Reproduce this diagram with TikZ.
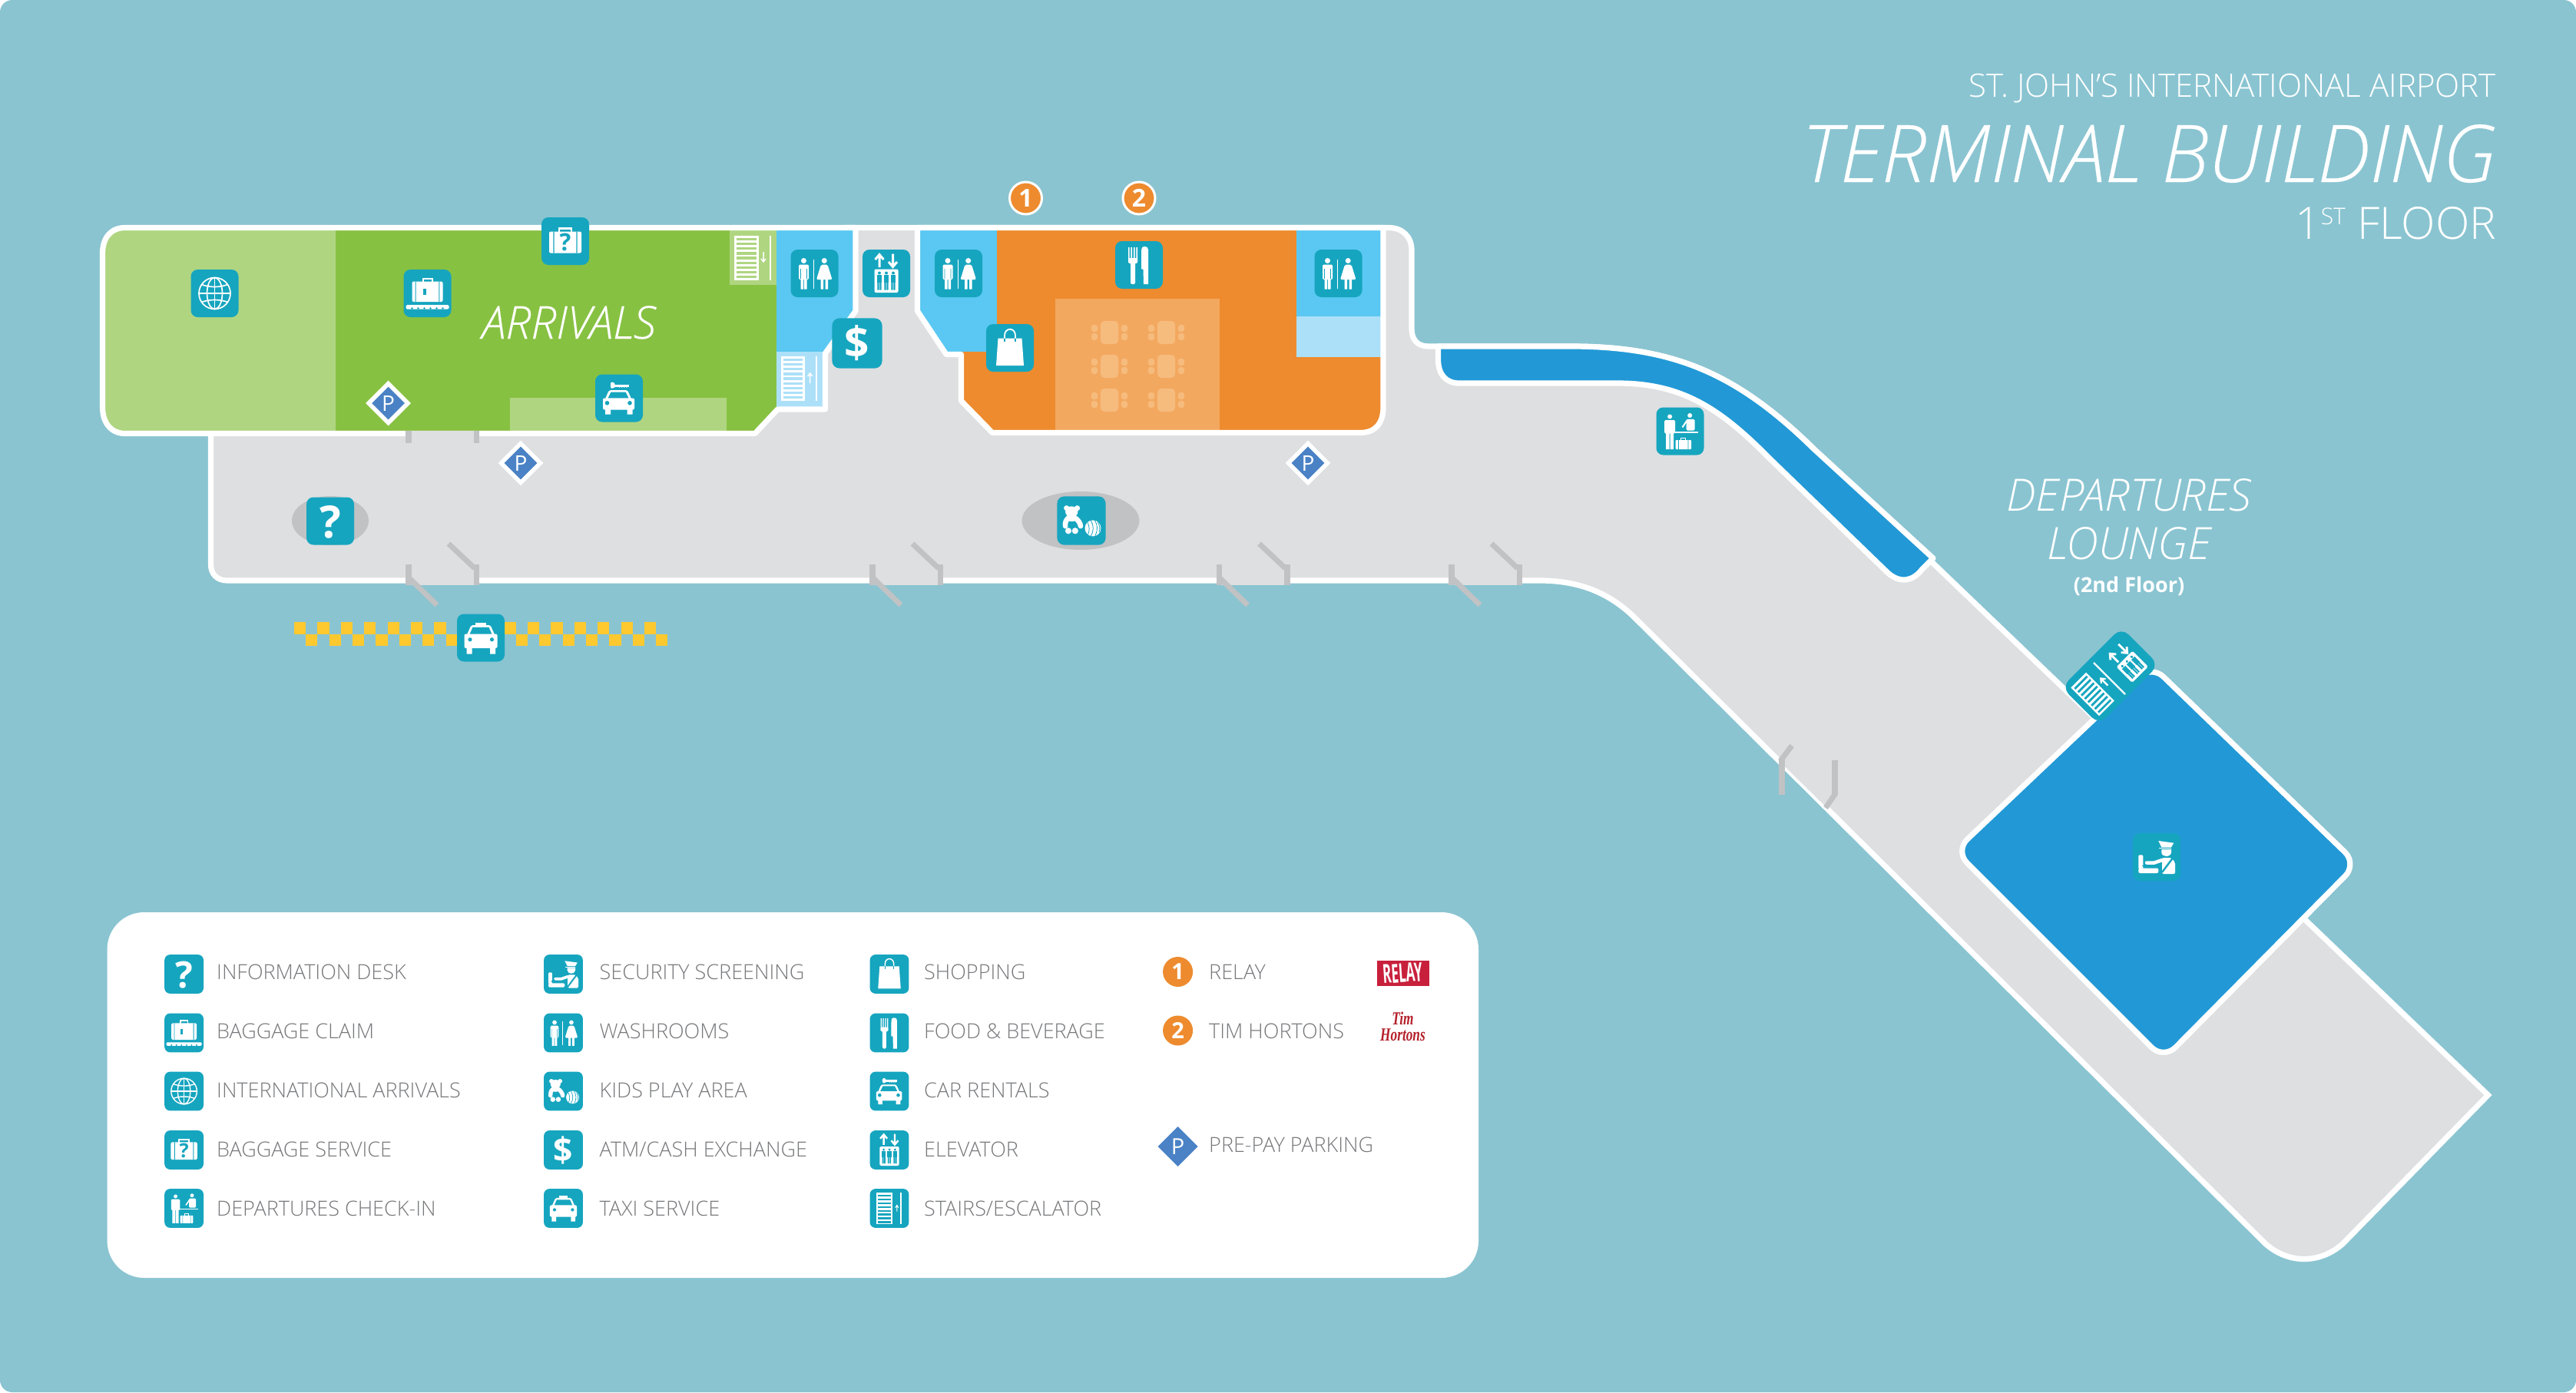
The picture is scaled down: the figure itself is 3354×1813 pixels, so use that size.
\documentclass[tikz,border=0pt]{standalone}
\usepackage{fontspec}
\setmainfont{Open Sans}[UprightFont={* Light},ItalicFont={* Light Italic}]
\newfontfamily\osbold{Open Sans}
\newfontfamily\titlefont{Open Sans Light Italic}[FakeBold=0.25]
\newfontfamily\tmfont{Liberation Serif}
\definecolor{bgc}{HTML}{8AC4D1}
\definecolor{gry}{HTML}{DEDFE1}
\definecolor{lgreen}{HTML}{AFD581}
\definecolor{dgreen}{HTML}{87C142}
\definecolor{lblue}{HTML}{5AC8F2}
\definecolor{pblue}{HTML}{ACE0F8}
\definecolor{orng}{HTML}{ED8B2E}
\definecolor{lorng}{HTML}{F3A860}
\definecolor{tabl}{HTML}{F6BC7E}
\definecolor{sblue}{HTML}{2299D6}
\definecolor{icobg}{HTML}{16A5BF}
\definecolor{pkblue}{HTML}{4A82C5}
\definecolor{ltext}{HTML}{77787B}
\definecolor{doorc}{HTML}{C0C2C4}
\definecolor{checkc}{HTML}{FDC92F}
\definecolor{relayc}{HTML}{C8203C}
\definecolor{timc}{HTML}{B5202A}
\newcommand{\fsz}[1]{\fontsize{#1}{#1}\selectfont}
\tikzset{
  wall/.style={draw=white,line width=7.2pt,line join=round},
  gtext/.style={inner sep=0pt,white},
  ltxt/.style={inner sep=0pt,text=ltext,anchor=base west,font=\fsz{27}},
  numc/.style={fill=orng,draw=white,line width=3pt},
  gl/.style={white,inner sep=0pt,transform shape},
}
% ---- glyphs, drawn in a 62-unit box centred on the origin
\newcommand{\glyQ}{\node[gl,font=\osbold\bfseries\fsz{58}] (gq) at (0,1) {?};}
\newcommand{\glyD}{\node[gl,font=\osbold\bfseries\fsz{54}] (gd) at (0,0) {\$};}
\newcommand{\glyTaxi}{%
  \fill[white] (-7,-20) rectangle (7,-16);
  \fill[white,rounded corners=\s*2pt] (-12.5,-16.5) -- (12.5,-16.5) -- (18.5,-3) -- (-18.5,-3) -- cycle;
  \fill[icobg] (-10.5,-13.7) -- (10.5,-13.7) -- (14.5,-4.5) -- (-14.5,-4.5) -- cycle;
  \fill[white,rounded corners=\s*2pt] (-21.5,-5) rectangle (21.5,13.5);
  \fill[white] (-18.5,12) rectangle (-11.5,21) (12,12) rectangle (19,21);
  \fill[icobg] (-14,2.3) circle (2.6) (14.5,2.3) circle (2.6);}
\newcommand{\glyRent}{%
  \fill[white,rounded corners=\s*2pt] (-13,-10.5) -- (11,-10.5) -- (17,3) -- (-19,3) -- cycle;
  \fill[icobg] (-10.5,-8) -- (8.5,-8) -- (12.5,0) -- (-14.5,0) -- cycle;
  \fill[white,rounded corners=\s*2pt] (-21,0) rectangle (20,15);
  \fill[white] (-18,14) rectangle (-11,21) (10.5,14) rectangle (17.5,21);
  \fill[icobg] (-15.5,6.3) circle (2.8) (14,6.3) circle (2.8);
  \fill[white,rounded corners=\s*2pt] (-11,-21) -- (-7,-21) -- (-5,-18.5) -- (-5,-15) -- (-7,-12.7) -- (-11,-12.7) -- cycle;
  \fill[white] (-6,-18) rectangle (12.5,-15);
  \fill[white] (0,-15.2) rectangle (1.4,-14) (3,-15.2) rectangle (4.4,-14) (6,-15.2) rectangle (7.4,-14) (9,-15.2) rectangle (10.4,-14);}
\newcommand{\glyWash}{%
  \fill[white] (-14,-16.5) circle (3.5);
  \fill[white,rounded corners=\s*2pt] (-20.5,-11.5) rectangle (-7.5,8);
  \fill[white] (-18,6) rectangle (-14.5,20.5) (-13.5,6) rectangle (-10,20.5);
  \fill[icobg] (-18.3,-6) rectangle (-17.7,7) (-10.3,-6) rectangle (-9.7,7);
  \fill[white] (-1.5,-18) rectangle (-0.4,20);
  \fill[white] (12.7,-16.5) circle (3.5);
  \fill[white,rounded corners=\s*2pt] (8.5,-11.5) -- (17,-11.5) -- (23,8) -- (2.5,8) -- cycle;
  \fill[white] (8,7) rectangle (11.5,20.5) (14,7) rectangle (17.5,20.5);}
\newcommand{\glyClaim}{%
  \draw[white,line width=\s*2pt] (-6,-15) -- (-6,-19.5) -- (6,-19.5) -- (6,-15);
  \fill[white,rounded corners=\s*2pt] (-20,-15.5) rectangle (20,11);
  \fill[icobg] (-15.8,-15.5) rectangle (-14.8,11) (14.8,-15.5) rectangle (15.8,11);
  \fill[icobg] (-5.5,-6) rectangle (-2,2);
  \fill[white,rounded corners=\s*1.5pt] (-28,15) rectangle (28,20.5);
  \foreach \k in {-20,-12,-4,4,12,20} {\fill[icobg] (\k,19.5) circle (1.3);}}
\newcommand{\glyServ}{%
  \draw[white,line width=\s*2.2pt] (-8,-12) -- (-8,-16.5) -- (8,-16.5) -- (8,-12);
  \fill[white,rounded corners=\s*2pt] (-21,-12.5) rectangle (21,15.5);
  \fill[icobg] (-15.6,-12.5) rectangle (-14.4,15.5) (14.4,-12.5) rectangle (15.6,15.5);
  \node[inner sep=0pt,text=icobg,transform shape,font=\osbold\bfseries\fsz{31}] (gs) at (0,1) {?};}
\newcommand{\glyGlobe}{%
  \begin{scope}[white,line width=\s*1.7pt]
  \draw (0,0) circle (20.5);
  \draw (0,0) ellipse (10 and 20.5);
  \draw (0,-20.5) -- (0,20.5) (-20.5,0) -- (20.5,0);
  \draw (-17,-11.5) .. controls (-7,-7.5) and (7,-7.5) .. (17,-11.5);
  \draw (-17,11.5) .. controls (-7,7.5) and (7,7.5) .. (17,11.5);
  \end{scope}}
\newcommand{\glyLift}{%
  \begin{scope}[white,line width=\s*3pt]
  \draw (-9,-8) -- (-9,-23) (-14.5,-18) -- (-9,-24.5) -- (-3.5,-18);
  \draw (8.5,-25.5) -- (8.5,-10) (3,-15) -- (8.5,-8.5) -- (14,-15);
  \end{scope}
  \fill[white,rounded corners=\s*2pt] (-15.5,-5.5) rectangle (15.5,25);
  \foreach \k in {-9,0,9} {%
    \fill[icobg] (\k,-.5) circle (2);
    \fill[icobg] (\k-3.2,2) rectangle (\k+3.2,12);
    \fill[icobg] (\k-2.6,11) rectangle (\k-.4,21.5) (\k+.4,11) rectangle (\k+2.6,21.5);}}
\newcommand{\glyBag}{%
  \fill[white] (-15.5,-12.5) -- (15.5,-12.5) -- (18,23) -- (-18,23) -- cycle;
  \draw[white,line width=\s*1.8pt] (-7,-12.5) -- (-7,-16) .. controls (-7,-27) and (7,-27) .. (7,-16) -- (7,-12.5);
  \draw[icobg,line width=\s*1.8pt] (-7,-12.5) -- (-7,-8) (7,-12.5) -- (7,-8);}
\newcommand{\glyFood}{%
  \fill[white] (-14,-23) rectangle (-12.4,-4) (-10.6,-23) rectangle (-9,-4) (-7,-23) rectangle (-5.4,-4) (-3.6,-23) rectangle (-2,-4);
  \fill[white,rounded corners=\s*2pt] (-14,-9) rectangle (-2,-2);
  \fill[white,rounded corners=\s*2pt] (-11,-4) rectangle (-5,25);
  \fill[white] (7,-24) .. controls (3,-24) and (3,-20) .. (3,-15) -- (3,5) -- (5.5,6) -- (6,25) -- (12,25) -- (12,-20) .. controls (12,-23) and (10,-24) .. (7,-24) -- cycle;}
\newcommand{\glyKids}{%
  \fill[white] (-12.5,-11.3) ellipse (8 and 7) (-19,-16) circle (3.5) (-5.3,-16) circle (3.5);
  \draw[white,line width=\s*6.5pt,line cap=round] (-16,-4) .. controls (-20,-1) and (-21,3) .. (-20.5,7);
  \draw[white,line width=\s*6.5pt,line cap=round] (-9,-4) .. controls (-4,-1) and (-1.5,3) .. (-1,7);
  \fill[white] (-12.5,-2) ellipse (6 and 3);
  \fill[white] (-16.7,13) circle (4) (-8,13) circle (4);
  \fill[white] (14.7,9.7) circle (10.3);
  \draw[icobg,line width=\s*.8pt] (8,2.5) .. controls (10.5,8) and (10.5,13) .. (8.5,17.5);
  \draw[icobg,line width=\s*.8pt] (12,0) .. controls (16,6) and (16,13) .. (12,19.5);
  \draw[icobg,line width=\s*.8pt] (17,-.3) .. controls (21,6) and (21,12) .. (17.5,19.5);
  \draw[icobg,line width=\s*.8pt] (21,2) .. controls (24,7) and (24,11) .. (22.5,15);}
\newcommand{\glyCheck}{%
  \fill[white] (-13.4,-19) circle (3);
  \fill[white,rounded corners=\s*1.5pt] (-20.5,-14.5) rectangle (-6.5,3);
  \fill[white] (-18.5,2) rectangle (-14,23.6) (-13,2) rectangle (-8.5,23.6);
  \fill[white] (-6.5,0) rectangle (23,2.2);
  \fill[white] (12.7,-20.5) circle (3);
  \fill[white,rounded corners=\s*1.5pt] (8,-15.6) rectangle (19,-1);
  \draw[white,line width=\s*2pt] (9,-14) -- (3,-5);
  \draw[white,line width=\s*1.3pt] (1,11.5) -- (1,9) -- (7,9) -- (7,11.5);
  \fill[white,rounded corners=\s*1pt] (-6,11.5) rectangle (14.5,23.6);
  \fill[icobg] (-2.5,11.5) rectangle (-1.7,23.6) (10,11.5) rectangle (10.8,23.6);}
\newcommand{\glySec}{%
  \fill[white] (2.3,-21) -- (22.3,-18.3) -- (19,-12.7) -- (6.3,-12.7) -- cycle;
  \fill[white] (3,-12) rectangle (19,-10.6);
  \fill[white] (6.3,-10) -- (19,-10) -- (19,-6) .. controls (19,-2.5) and (15,-1) .. (12.5,-1) .. controls (10,-1) and (6.3,-2.5) .. (6.3,-6) -- cycle;
  \fill[white,rounded corners=\s*2pt] (7,1) -- (19,1) -- (24,7) -- (24,22) -- (7,22) -- (7,12) -- cycle;
  \draw[icobg,line width=\s*2.4pt] (20.5,2) -- (7,20);
  \fill[white,rounded corners=\s*1.5pt] (-23.7,-2.7) rectangle (-17.7,16);
  \fill[white,rounded corners=\s*2pt] (-23.7,14.5) rectangle (2.3,21);
  \draw[white,line width=\s*4.5pt,line cap=round] (-13,7.5) -- (-3,7.5) -- (7,4);
  \draw[icobg,line width=\s*1.5pt] (-19,11.5) -- (6,11.5);}
\newcommand{\glyStair}{%
  \fill[white] (-21,-25) rectangle (5,25);
  \foreach \k in {0,...,7} {\fill[icobg] (-18,-21.5+6*\k) rectangle (2,-18.5+6*\k);}
  \fill[white] (17.3,-25) rectangle (19,25);
  \draw[white,line width=\s*1.2pt] (12,5) -- (12,-4) (9.5,-1) -- (12,-5) -- (14.5,-1);}
% ---- placement
\newcommand{\ICON}[4]{%
  \begin{scope}[shift={(#1,#2)},scale=#3]\def\s{#3}%
  \fill[icobg,rounded corners=#3*9pt] (-31,-31) rectangle (31,31);
  #4
  \end{scope}}
\newcommand{\doorpair}[1]{%
  \fill[gry] (#1,751) rectangle (#1+88.5,761.5);
  \fill[doorc] (#1-3.75,735) rectangle (#1+3.75,761.5);
  \fill[doorc] (#1+84.75,735) rectangle (#1+92.25,761.5);
  \draw[doorc,line width=7pt] (#1,752) -- (#1+37,788);
  \draw[doorc,line width=7pt] (#1+86,740) -- (#1+52,708);}
\newcommand{\parking}[3]{\fill[pkblue,draw=white,line width=5.5pt,line join=miter] (#1-25.5,#2) -- (#1,#2-25.5) -- (#1+25.5,#2) -- (#1,#2+25.5) -- cycle;
  \node[white,inner sep=0pt,font=\osbold\fsz{28}] (#3) at (#1,#2) {P};}
\begin{document}
\begin{tikzpicture}[x=1pt,y=-1pt]
\useasboundingbox (0,0) rectangle (3354,1813);
\fill[white] (0,0) rectangle (3354,1813);
\fill[bgc,rounded corners=16pt] (0,0) rectangle (3354,1813);
% grey concourse
\fill[gry] (1100,296.5) -- (1808,296.5) .. controls (1826,296.5) and (1838,308) .. (1838,326) -- (1838,428) .. controls (1838,443) and (1846,451) .. (1860,451) -- (2045,451) .. controls (2180,451) and (2262,487) .. (2361,584) -- (3239.5,1426) -- (3050,1620) .. controls (3020,1646) and (2980,1646) .. (2950,1620) -- (2126,802) .. controls (2090,768) and (2050,756) .. (2004,756) -- (296,756) .. controls (282,756) and (274.5,747) .. (274.5,735) -- (274.5,540) -- cycle;
\draw[wall,miter limit=10,line join=miter] (1100,296.5) -- (1808,296.5) .. controls (1826,296.5) and (1838,308) .. (1838,326) -- (1838,428) .. controls (1838,443) and (1846,451) .. (1860,451) -- (2045,451) .. controls (2180,451) and (2262,487) .. (2361,584) -- (3239.5,1426) -- (3050,1620) .. controls (3020,1646) and (2980,1646) .. (2950,1620) -- (2126,802) .. controls (2090,768) and (2050,756) .. (2004,756) -- (296,756) .. controls (282,756) and (274.5,747) .. (274.5,735) -- (274.5,540);
% strip
\draw[wall,fill=sblue] (1872.5,451) -- (1872.5,468) .. controls (1872.5,487) and (1882,499) .. (1900,499) -- (2106,499) .. controls (2190,499) and (2240,532) .. (2304,597) -- (2458,746) .. controls (2474,760) and (2490,757) .. (2502,742) -- (2517,727) -- (2361,584) .. controls (2262,487) and (2180,451) .. (2045,451) -- cycle;
% departure lounge
\draw[wall,fill=sblue,rounded corners=22pt] (2801,866) -- (3069,1125) -- (2817,1379.5) -- (2545.5,1108) -- cycle;
% ellipses
\fill[doorc] (430,678) ellipse (50 and 32);
\fill[doorc] (1407,678) ellipse (76.5 and 38);
% arrivals block
\begin{scope}
\clip (163,296.5) -- (1114,296.5) -- (1114,405) -- (1074.5,460) -- (1074.5,533) -- (1012.5,533) -- (983,564.5) -- (163,564.5) .. controls (144,564.5) and (133.5,550) .. (133.5,530) -- (133.5,330) .. controls (133.5,310) and (144,296.5) .. (163,296.5) -- cycle;
\fill[lgreen] (120,290) rectangle (437,570);
\fill[dgreen] (437,290) rectangle (1010.5,570);
\fill[lgreen] (664,518) rectangle (946,570);
\fill[lgreen] (950,290) rectangle (1010.5,371);
\fill[lblue] (1010.5,290) rectangle (1120,458);
\fill[pblue] (1010.5,458) rectangle (1080,540);
\end{scope}
\draw[wall] (163,296.5) -- (1114,296.5) -- (1114,405) -- (1074.5,460) -- (1074.5,533) -- (1012.5,533) -- (983,564.5) -- (163,564.5) .. controls (144,564.5) and (133.5,550) .. (133.5,530) -- (133.5,330) .. controls (133.5,310) and (144,296.5) .. (163,296.5) -- cycle;
% map stairs
\fill[white] (956,307) rectangle (988,365);
\foreach \k in {0,...,8} {\fill[lgreen!100!dgreen] (959,310+6.1*\k) rectangle (985,313.2+6.1*\k);}
\fill[white] (1001.5,307) rectangle (1003.5,365);
\draw[white,line width=1.5pt] (994,328) -- (994,341) (991,337) -- (994,341) -- (997,337);
\fill[white] (1016.5,464) rectangle (1048,522);
\foreach \k in {0,...,8} {\fill[pblue] (1019.5,467+6.1*\k) rectangle (1045,470.2+6.1*\k);}
\fill[white] (1062,464) rectangle (1064,522);
\draw[white,line width=1.5pt] (1054.7,499) -- (1054.7,486) (1051.7,490) -- (1054.7,486) -- (1057.7,490);
% shop block
\begin{scope}
\clip (1194.5,296.5) -- (1194.5,405) -- (1232,461.5) -- (1251.5,461.5) -- (1251.5,522) -- (1292,563.5) -- (1771,563.5) .. controls (1790,563.5) and (1801,552) .. (1801,530) -- (1801,296.5) -- cycle;
\fill[orng] (1190,290) rectangle (1810,570);
\fill[lblue] (1190,290) rectangle (1298,458);
\fill[lblue] (1688,290) rectangle (1810,412);
\fill[pblue] (1688,412) rectangle (1810,464.5);
\fill[lorng] (1374,389) rectangle (1588,560);
\foreach \tx in {1444.5,1518.5} \foreach \ty in {433,477,521} {
  \fill[tabl,rounded corners=5pt] (\tx-11.5,\ty-15) rectangle (\tx+11.5,\ty+15);
  \fill[tabl,rounded corners=3pt] (\tx-23.5,\ty-10) rectangle (\tx-15.5,\ty-1);
  \fill[tabl,rounded corners=3pt] (\tx-23.5,\ty+1) rectangle (\tx-15.5,\ty+10);
  \fill[tabl,rounded corners=3pt] (\tx+15.5,\ty-10) rectangle (\tx+23.5,\ty-1);
  \fill[tabl,rounded corners=3pt] (\tx+15.5,\ty+1) rectangle (\tx+23.5,\ty+10);}
\end{scope}
\draw[wall] (1194.5,296.5) -- (1194.5,405) -- (1232,461.5) -- (1251.5,461.5) -- (1251.5,522) -- (1292,563.5) -- (1771,563.5) .. controls (1790,563.5) and (1801,552) .. (1801,530) -- (1801,296.5) -- cycle;
% doors
\fill[gry] (532,561) rectangle (620.5,569);
\fill[doorc] (528.25,561) rectangle (535.75,577);
\fill[doorc] (616.75,561) rectangle (624.25,577);
\doorpair{532}\doorpair{1136}\doorpair{1587.5}\doorpair{1890}
\draw[gry,line width=7.6pt] (2322,991) -- (2381,1049);
\fill[doorc] (2316,987) rectangle (2323.6,1035);
\draw[doorc,line width=7pt] (2318,991) -- (2333,971);
\fill[doorc] (2385,989.5) rectangle (2393,1035.5);
\draw[doorc,line width=7pt] (2390,1033) -- (2377,1052);
% taxi rank
\foreach \k in {0,...,15} {\fill[checkc] (383+30.4*\k,810) rectangle (398.2+30.4*\k,825.7);
  \fill[checkc] (398.2+30.4*\k,825.7) rectangle (413.4+30.4*\k,840.7);}
% map icons
\ICON{279.5}{382}{1}{\glyGlobe}
\ICON{556.5}{382}{1}{\glyClaim}
\ICON{736}{314}{1}{\glyServ}
\ICON{806}{518.5}{1}{\glyRent}
\ICON{1060.5}{356}{1}{\glyWash}
\ICON{1154}{356}{1}{\glyLift}
\ICON{1116}{447}{1.05}{\glyD}
\ICON{1248}{356}{1}{\glyWash}
\ICON{1483}{345}{1}{\glyFood}
\ICON{1742.5}{356}{1}{\glyWash}
\ICON{1315}{453}{1}{\glyBag}
\ICON{1408}{678}{1.02}{\glyKids}
\ICON{430}{678.5}{1}{\glyQ}
\ICON{626}{830.5}{1}{\glyTaxi}
\ICON{2187.5}{561.5}{1}{\glyCheck}
\ICON{2808}{1116}{1}{\glySec}
% rotated stairs and elevator icon
\begin{scope}[shift={(2746.5,883.5)},rotate=45]\def\s{1}
\fill[icobg,rounded corners=13pt] (-52,-36) rectangle (58,33);
\fill[white] (-44,-27) rectangle (-16,25);
\foreach \k in {0,...,7} {\fill[icobg] (-41.5,-23.8+6.2*\k) rectangle (-18.5,-21+6.2*\k);}
\fill[white] (-1.1,-29) rectangle (1.1,29);
\draw[white,line width=2.2pt] (-8,5) -- (-8,-7) (-12,-3) -- (-8,-8) -- (-4,-3);
\begin{scope}[shift={(31.8,1)},scale=.95]\def\s{.95}
\glyLift
\end{scope}
\end{scope}
% parking
\parking{505.6}{525}{p1}\parking{678}{603}{p2}\parking{1703}{603}{p3}
% numbered markers
\node[numc,circle,minimum size=42pt,inner sep=0pt,text=white,font=\osbold\bfseries\fsz{32}] (n1) at (1335.5,258) {1};
\node[numc,circle,minimum size=42pt,inner sep=0pt,text=white,font=\osbold\bfseries\fsz{32}] (n2) at (1483,258) {2};
% titles
\node[gtext,anchor=base east,font=\fsz{42}] (title1) at (3250,126) {ST. JOHN’S INTERNATIONAL AIRPORT};
\node[gtext,anchor=base east,font=\titlefont\fsz{103.5}] (title2) at (3250,237) {TERMINAL BUILDING};
\node[gtext,anchor=base east,font=\fsz{58}] (title3) at (3250,311) {1\raisebox{19pt}{\fsz{30}ST} FLOOR};
\node[gtext,anchor=base,font=\titlefont\fsz{59}] (arr) at (741,441) {ARRIVALS};
\node[gtext,anchor=base,font=\itshape\fsz{58}] (dep1) at (2772,665.6) {DEPARTURES};
\node[gtext,anchor=base,font=\itshape\fsz{58}] (dep2) at (2772,728) {LOUNGE};
\node[gtext,anchor=base,font=\osbold\bfseries\fsz{27}] (dep3) at (2772,771) {(2nd Floor)};
% legend
\fill[white,rounded corners=48pt] (139.6,1188) rectangle (1925,1664);
\ICON{239.6}{1268.5}{.82}{\glyQ}
\ICON{239.6}{1345}{.82}{\glyClaim}
\ICON{239.6}{1421}{.82}{\glyGlobe}
\ICON{239.6}{1497.5}{.82}{\glyServ}
\ICON{239.6}{1573.5}{.82}{\glyCheck}
\ICON{733.5}{1268.5}{.82}{\glySec}
\ICON{733.5}{1345}{.82}{\glyWash}
\ICON{733.5}{1421}{.82}{\glyKids}
\ICON{733.5}{1497.5}{.82}{\glyD}
\ICON{733.5}{1573.5}{.82}{\glyTaxi}
\ICON{1158}{1268.5}{.82}{\glyBag}
\ICON{1158}{1345}{.82}{\glyFood}
\ICON{1158}{1421}{.82}{\glyRent}
\ICON{1158}{1497.5}{.82}{\glyLift}
\ICON{1158}{1573.5}{.82}{\glyStair}
\node[ltxt] (l1) at (282,1275) {INFORMATION DESK};
\node[ltxt] (l2) at (282,1352) {BAGGAGE CLAIM};
\node[ltxt] (l3) at (282,1429) {INTERNATIONAL ARRIVALS};
\node[ltxt] (l4) at (282,1506) {BAGGAGE SERVICE};
\node[ltxt] (l5) at (282,1583) {DEPARTURES CHECK-IN};
\node[ltxt] (l6) at (780.5,1275) {SECURITY SCREENING};
\node[ltxt] (l7) at (780.5,1352) {WASHROOMS};
\node[ltxt] (l8) at (780.5,1429) {KIDS PLAY AREA};
\node[ltxt] (l9) at (780.5,1506) {ATM/CASH EXCHANGE};
\node[ltxt] (l10) at (780.5,1583) {TAXI SERVICE};
\node[ltxt] (l11) at (1203,1275) {SHOPPING};
\node[ltxt] (l12) at (1203,1352) {FOOD \& BEVERAGE};
\node[ltxt] (l13) at (1203,1429) {CAR RENTALS};
\node[ltxt] (l14) at (1203,1506) {ELEVATOR};
\node[ltxt] (l15) at (1203,1583) {STAIRS/ESCALATOR};
\node[ltxt] (l16) at (1574,1275) {RELAY};
\node[ltxt] (l17) at (1574,1352) {TIM HORTONS};
\node[ltxt] (l18) at (1574,1500) {PRE-PAY PARKING};
\node[circle,fill=orng,minimum size=39pt,inner sep=0pt,text=white,font=\osbold\bfseries\fsz{29}] (c1) at (1533.6,1265.5) {1};
\node[circle,fill=orng,minimum size=39pt,inner sep=0pt,text=white,font=\osbold\bfseries\fsz{29}] (c2) at (1533.6,1342) {2};
\fill[pkblue] (1507.6,1493) -- (1533.6,1467) -- (1559.6,1493) -- (1533.6,1519) -- cycle;
\node[white,inner sep=0pt,font=\osbold\fsz{29}] (cp) at (1533.6,1493) {P};
\fill[relayc] (1792.7,1251) rectangle (1861,1284);
\node[white,inner sep=0pt,rotate=4,xscale=.5,transform shape,font=\osbold\bfseries\fsz{34}] (relay) at (1826,1267) {RELAY};
\node[text=timc,inner sep=0pt,font=\tmfont\bfseries\itshape\fsz{24},align=center,xscale=.72,transform shape] (tim) at (1826.5,1337) {Tim\\[-3pt]Hortons};
\end{tikzpicture}
\end{document}
